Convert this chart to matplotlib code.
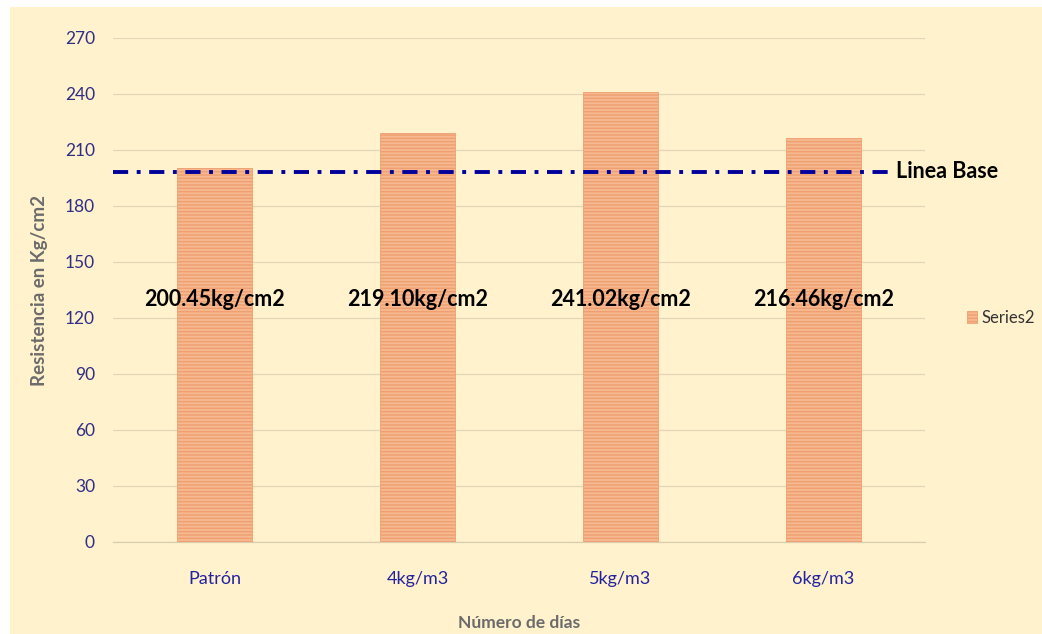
import matplotlib
matplotlib.use("Agg")
import matplotlib.pyplot as plt
from matplotlib.patches import Rectangle

plt.rcParams["font.family"] = ["Lato", "DejaVu Sans"]
plt.rcParams["hatch.linewidth"] = 1.1
plt.rcParams["hatch.color"] = "#EC7F3C"

# ── data ──
categories = ["Patrón", "4kg/m3", "5kg/m3", "6kg/m3"]
resistencia = [200.45, 219.10, 241.02, 216.46]
bar_labels = ["200.45kg/cm2", "219.10kg/cm2", "241.02kg/cm2", "216.46kg/cm2"]
linea_base = 198.3
yticks = [0, 30, 60, 90, 120, 150, 180, 210, 240, 270]

BG = "#FFF2CC"
NAVY = "#2E2E86"

fig = plt.figure(figsize=(10.42, 6.34), dpi=100)
fig.patch.set_facecolor("white")
fig.add_artist(Rectangle((10 / 1042, 0), 1, 1 - 7 / 634, transform=fig.transFigure,
                         facecolor=BG, edgecolor="none", zorder=-10))

ax = fig.add_axes([113 / 1042, 1 - 542 / 634, 812 / 1042, (542 - 38) / 634])
ax.set_facecolor("none")

x = range(len(categories))
bars = ax.bar(x, resistencia, width=0.37, color="#F6BA92", edgecolor="#F0A070",
              linewidth=0.6, hatch="-----", label="Series2", zorder=3)

# value labels
for xi, lab in zip(x, bar_labels):
    ax.text(xi, 130, lab, ha="center", va="center", fontsize=15.5,
            fontweight="bold", color="black", zorder=5)

# baseline
xmax = (888 - 113) / 812
ax.axhline(linea_base, xmin=0, xmax=xmax, color="#00009C", lw=2.8,
           linestyle=(0, (3.9, 2.2, 1.0, 2.2)), zorder=4)
ax.text(-0.5 + xmax * 4 + 0.04, linea_base, "Linea Base", ha="left", va="center",
        fontsize=15.5, fontweight="bold", color="black", clip_on=False)

ax.set_xlim(-0.5, 3.5)
ax.set_ylim(0, 270)
ax.set_yticks(yticks)
ax.set_xticks(list(x))
ax.set_xticklabels(categories)
ax.tick_params(axis="y", length=0, pad=13, labelsize=12.5, labelcolor=NAVY)
ax.tick_params(axis="x", length=0, pad=21, labelsize=13, labelcolor="#2323A0")
ax.grid(axis="y", color="#E2D6B8", lw=0.9, zorder=0)
ax.set_axisbelow(True)
for s in ["top", "right", "left"]:
    ax.spines[s].set_visible(False)
ax.spines["bottom"].set_color("#D9CDB0")
ax.spines["bottom"].set_linewidth(0.9)

ax.set_ylabel("Resistencia en Kg/cm2", fontsize=13.5, fontweight="bold",
              color="#6B6B6B", labelpad=12)
ax.set_xlabel("Número de días", fontsize=12.5, fontweight="bold",
              color="#6B6B6B", labelpad=20)

fig.legend(handles=[bars], labels=["Series2"], loc="center left",
           bbox_to_anchor=(952 / 1042, 1 - 318 / 634), frameon=False,
           handlelength=0.6, handleheight=0.7, handletextpad=0.3,
           fontsize=12, labelcolor="#333333")

fig.savefig("out.png", dpi=100, facecolor="white")
